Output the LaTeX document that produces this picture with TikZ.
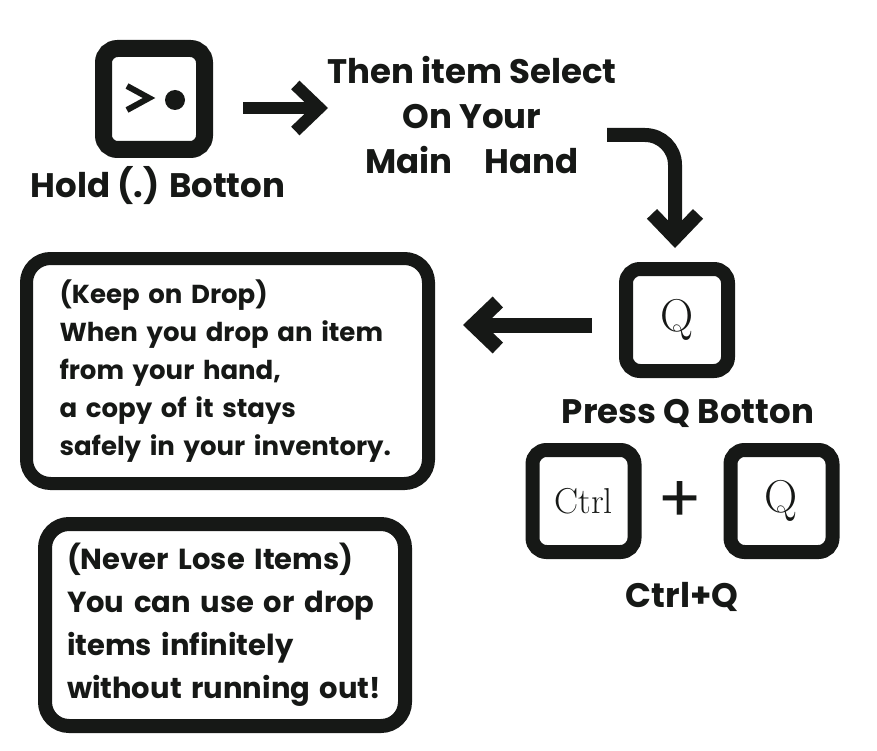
\documentclass[tikz,border=0pt]{standalone}
\usepackage{fontspec}
\setsansfont{Poppins}
\usetikzlibrary{arrows.meta}
\definecolor{ink}{HTML}{161816}

\begin{document}
\begin{tikzpicture}[
    x=1pt, y=-1pt,
    key/.style={
        draw=ink,
        fill=white,
        line width=14pt,
        rounded corners=14pt,
        minimum size=102pt,
        inner sep=0pt,
        text=ink,
        font=\fontsize{46}{46}\selectfont,
    },
    caption/.style={
        text=ink,
        inner sep=0pt,
        align=center,
        font=\sffamily\bfseries\fontsize{34}{45}\selectfont,
    },
    card/.style={
        draw=ink,
        line width=13pt,
        rounded corners=24pt,
        text=ink,
        align=left,
        inner xsep=33pt,
        font=\sffamily\bfseries\fontsize{26}{38}\selectfont,
    },
    bigarrow/.style={
        draw=ink,
        line width=14pt,
        -{Straight Barb[length=24pt, width=46pt, line cap=butt, line join=miter]},
    },
]
\useasboundingbox (0,0) rectangle (877,751);

% first step
\node[key, line width=17pt, minimum size=101pt] (hold) at (154,99) {};
\draw[ink, line width=6pt] ([shift={(-27,-13)}]hold.center) -- ([shift={(-5,-1)}]hold.center) -- ([shift={(-27,11)}]hold.center);
\fill[ink] ([shift={(21,1)}]hold.center) circle (10pt);
\node[caption, anchor=base] (holdlabel) at (158,198) {Hold (.) Botton};

\node[caption] (select) at (472,115) {Then item Select\\On Your\\Main\hspace{0.95em}Hand};
\coordinate (selectin) at (328,108);
\draw[bigarrow, line width=12pt] ([shift={(30,9)}]hold.east) -- (selectin);

% drop key
\node[key] (qkey) at (677,320) {Q};
\node[caption, anchor=base] (presslabel) at (688,423) {Press Q Botton};
\coordinate (turnin) at (607,135);
\draw[bigarrow, rounded corners=30pt] (turnin) -| ([shift={(-2,-14)}]qkey.north);

% combo
\node[key] (ctrlkey) at (583.5,501) {\fontsize{36}{36}\selectfont Ctrl};
\node[key] (qkeyb) at (781.5,501) {Q};
\node[caption, font=\sffamily\fontsize{66}{66}\selectfont] (plus) at (680,502) {+};
\node[caption, anchor=base] (combolabel) at (682,607) {Ctrl+Q};

% notes
\node[card, minimum width=402pt, minimum height=225pt, text width=336pt] (keep) at (227.5,371)
    {(Keep on Drop)\\When you drop an item\\from your hand,\\a copy of it stays\\safely in your inventory.};
\node[card, line width=14pt, inner xsep=22pt, minimum width=360pt, minimum height=202pt, text width=316pt,
    font=\sffamily\bfseries\fontsize{29}{43}\selectfont] (never) at (225,625)
    {(Never Lose Items)\\You can use or drop\\items infinitely\\without running out!};
\coordinate (dropin) at (463,325);
\draw[bigarrow, line width=15pt] ([shift={(-27,5)}]qkey.west) -- (dropin);

\end{tikzpicture}
\end{document}
